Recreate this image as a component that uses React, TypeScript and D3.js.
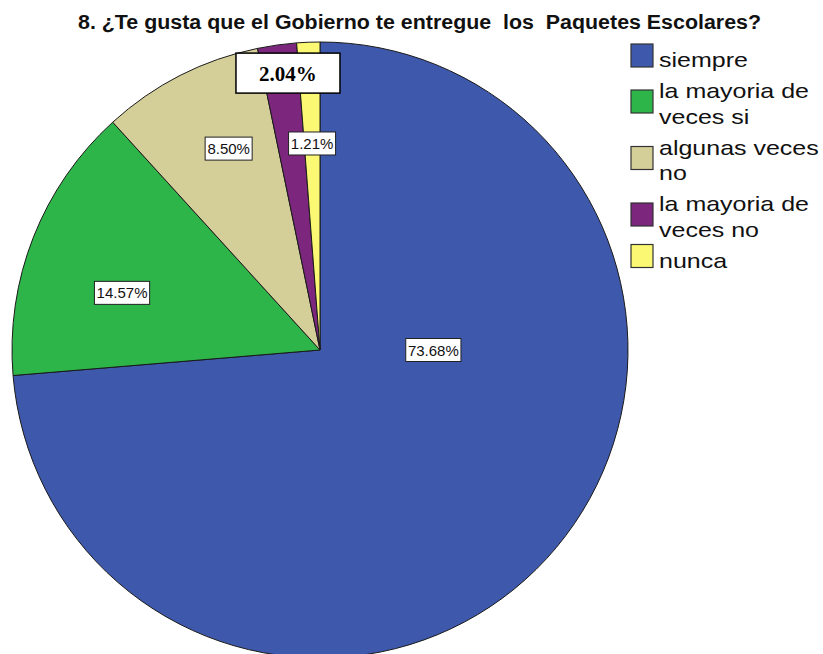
import React, { useEffect } from "react";
import * as d3 from "d3";

const categories = ["siempre", "la mayoria de veces si", "algunas veces no", "la mayoria de veces no", "nunca"];
const legendLines = [["siempre"], ["la mayoria de", "veces si"], ["algunas veces", "no"], ["la mayoria de", "veces no"], ["nunca"]];
const values = [73.68, 14.57, 8.5, 2.04, 1.21];
const labels = ["73.68%", "14.57%", "8.50%", "2.04%", "1.21%"];
const colors = ["#3E58AC", "#2EB54A", "#D4CE99", "#7C277D", "#FBF873"];
// label placement: polar angle (deg, clockwise from top) and distance as fraction of radius
const labelAngles = [90, 286.1, 335.6, 353.4, 357.8];
const labelDist = [0.368, 0.669, 0.718, 0.905, 0.671];

const W = 823;
const H = 654;
const cx = 320;
const cy = 350;
const R = 308;

export default function App() {
  useEffect(() => {
    document.body.style.margin = "0";
  }, []);

  const pie = d3.pie<number>().sort(null).startAngle(0).endAngle(2 * Math.PI)(values);
  const arc = d3.arc<d3.PieArcDatum<number>>().innerRadius(0).outerRadius(R);

  const lineH = 25.5;
  const gap = 31;
  let base = 67;
  const legendItems = legendLines.map((lines, i) => {
    const first = base;
    const swTop = lines.length === 1 ? first - 23 : first - 8;
    base = first + (lines.length - 1) * lineH + gap;
    return { lines, first, swTop, i };
  });

  return (
    <svg width={W} height={H} style={{ display: "block", background: "#fff" }}>
      <rect x={0} y={0} width={W} height={H} fill="#fff" />
      <text
        x={78}
        y={29}
        fontFamily="'Liberation Sans', Arial, sans-serif"
        fontWeight="bold"
        fontSize={19.5}
        textLength={683}
        lengthAdjust="spacingAndGlyphs"
        fill="#111"
        style={{ whiteSpace: "pre" }}
      >
        {"8. ¿Te gusta que el Gobierno te entregue  los  Paquetes Escolares?"}
      </text>
      <g transform={`translate(${cx},${cy})`}>
        {pie.map((d, i) => (
          <path key={i} d={arc(d) || ""} fill={colors[i]} stroke="#1a1a1a" strokeWidth={1} />
        ))}
        {pie.map((d, i) => {
          const a = (labelAngles[i] * Math.PI) / 180;
          const dist = labelDist[i] * R;
          const x = dist * Math.sin(a);
          const y = -dist * Math.cos(a);
          if (i === 3) {
            return (
              <g key={"l" + i}>
                <rect x={x - 52} y={y - 20} width={104} height={40} fill="#fff" stroke="#000" strokeWidth={1.5} />
                <text
                  x={x}
                  y={y + 8}
                  textAnchor="middle"
                  fontFamily="'Liberation Serif', 'Times New Roman', serif"
                  fontWeight="bold"
                  fontSize={21}
                  fill="#000"
                >
                  {labels[i]}
                </text>
              </g>
            );
          }
          const tw = labels[i].length * 8.2;
          const bw = tw + 6;
          return (
            <g key={"l" + i}>
              <rect x={x - bw / 2} y={y - 11.5} width={bw} height={23} fill="#fff" stroke="#222" strokeWidth={1} />
              <text
                x={x}
                y={y + 5.5}
                textAnchor="middle"
                fontFamily="'Liberation Sans', Arial, sans-serif"
                fontSize={15}
                fill="#111"
              >
                {labels[i]}
              </text>
            </g>
          );
        })}
      </g>
      <g>
        {legendItems.map(({ lines, first, swTop, i }) => (
          <g key={categories[i]}>
            <rect x={631} y={swTop} width={22} height={23} fill={colors[i]} stroke="#333" strokeWidth={1.2} />
            {lines.map((ln, k) => (
              <text
                key={k}
                transform={`translate(659,${first + k * lineH}) scale(1.19,1)`}
                fontFamily="'Liberation Sans', Arial, sans-serif"
                fontSize={21}
                fill="#111"
              >
                {ln}
              </text>
            ))}
          </g>
        ))}
      </g>
    </svg>
  );
}
